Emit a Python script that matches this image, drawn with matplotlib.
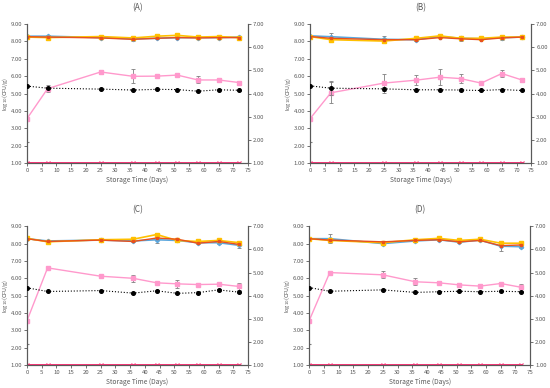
import matplotlib.pyplot as plt
import numpy as np

plt.rcParams["font.family"] = ["Noto Sans CJK JP", "DejaVu Sans"]

days = [0, 7, 25, 36, 44, 51, 58, 65, 72]
panels = ["(A)", "(B)", "(C)", "(D)"]

blue = {
    "A": [8.30, 8.30, 8.22, 8.15, 8.18, 8.22, 8.22, 8.22, 8.25],
    "B": [8.32, 8.27, 8.12, 8.10, 8.28, 8.18, 8.15, 8.22, 8.25],
    "C": [8.28, 8.15, 8.20, 8.15, 8.22, 8.18, 8.05, 8.05, 7.90],
    "D": [8.28, 8.28, 8.00, 8.15, 8.22, 8.08, 8.20, 7.85, 7.82],
}
blue_err = {
    "A": [0, 0.05, 0.05, 0.1, 0.05, 0.05, 0.05, 0.05, 0.05],
    "B": [0, 0.2, 0.2, 0.05, 0.05, 0.15, 0.05, 0.15, 0.05],
    "C": [0, 0.05, 0.05, 0.05, 0.2, 0.1, 0.05, 0.1, 0.15],
    "D": [0, 0.25, 0.05, 0.05, 0.05, 0.05, 0.05, 0.25, 0.05],
}
orange = {
    "A": [8.27, 8.25, 8.20, 8.12, 8.18, 8.22, 8.20, 8.22, 8.22],
    "B": [8.28, 8.18, 8.10, 8.10, 8.22, 8.15, 8.10, 8.20, 8.25],
    "C": [8.28, 8.12, 8.20, 8.12, 8.32, 8.25, 8.02, 8.12, 7.95],
    "D": [8.28, 8.20, 8.10, 8.18, 8.22, 8.10, 8.18, 7.88, 7.92],
}
yellow = {
    "A": [8.25, 8.22, 8.28, 8.20, 8.30, 8.35, 8.25, 8.28, 8.22],
    "B": [8.28, 8.10, 8.02, 8.18, 8.32, 8.18, 8.18, 8.25, 8.25],
    "C": [8.30, 8.10, 8.22, 8.25, 8.52, 8.18, 8.12, 8.18, 8.05],
    "D": [8.28, 8.18, 8.05, 8.22, 8.30, 8.18, 8.25, 8.02, 8.02],
}
pink = {
    "A": [3.55, 5.28, 6.24, 5.99, 6.00, 6.06, 5.78, 5.78, 5.63],
    "B": [3.56, 5.04, 5.60, 5.77, 5.94, 5.86, 5.60, 6.15, 5.77],
    "C": [3.55, 6.60, 6.12, 6.00, 5.74, 5.68, 5.64, 5.66, 5.53],
    "D": [3.55, 6.33, 6.20, 5.80, 5.74, 5.62, 5.55, 5.70, 5.48],
}
pink_err = {
    "A": [0, 0.2, 0.1, 0.4, 0.05, 0.05, 0.2, 0.1, 0.07],
    "B": [0, 0.6, 0.55, 0.3, 0.45, 0.28, 0.08, 0.18, 0.1],
    "C": [0, 0.05, 0.05, 0.2, 0.05, 0.25, 0.05, 0.07, 0.2],
    "D": [0, 0.05, 0.2, 0.2, 0.08, 0.05, 0.08, 0.05, 0.2],
}
# black series is read on the right axis
black = {
    "A": [4.32, 4.23, 4.19, 4.15, 4.18, 4.17, 4.10, 4.16, 4.14],
    "B": [4.33, 4.23, 4.20, 4.16, 4.16, 4.15, 4.13, 4.17, 4.13],
    "C": [4.34, 4.18, 4.22, 4.11, 4.21, 4.10, 4.13, 4.25, 4.15],
    "D": [4.35, 4.19, 4.25, 4.14, 4.17, 4.19, 4.17, 4.19, 4.17],
}
black_err = {
    "A": [0, 0.05, 0.05, 0.03, 0.03, 0.03, 0.03, 0.03, 0.03],
    "B": [0, 0.3, 0.1, 0.03, 0.03, 0.03, 0.03, 0.03, 0.03],
    "C": [0, 0.03, 0.03, 0.03, 0.03, 0.03, 0.05, 0.03, 0.05],
    "D": [0, 0.03, 0.03, 0.03, 0.03, 0.03, 0.03, 0.03, 0.03],
}
baseline = [1.00] * 9
baseline_err = [1.2, 0, 0, 0, 0, 0, 0, 0, 0]

axes_pos = {
    "A": [0.049, 0.580, 0.402, 0.358],
    "B": [0.564, 0.580, 0.402, 0.358],
    "C": [0.049, 0.059, 0.402, 0.358],
    "D": [0.562, 0.059, 0.402, 0.358],
}

txt = "#595959"
err_kw = dict(ecolor="#7f7f7f", elinewidth=0.6, capsize=1.5, capthick=0.6)

fig = plt.figure(figsize=(5.5, 3.88), dpi=100)

for key, title in zip("ABCD", panels):
    ax = fig.add_axes(axes_pos[key])
    ax2 = ax.twinx()

    ax.errorbar(days, baseline, yerr=baseline_err, color="#ff3377", lw=1.4,
                marker="x", ms=2.5, mew=0.8, zorder=2, **err_kw)
    ax.errorbar(days, pink[key], yerr=pink_err[key], color="#ff99cc", lw=1.0,
                marker="s", ms=2.4, zorder=3, **err_kw)
    ax.errorbar(days, blue[key], yerr=blue_err[key], color="#5ba7dd", lw=1.2,
                marker="D", ms=2.2, zorder=3, **err_kw)
    ax.plot(days, yellow[key], color="#ffc000", lw=1.2, marker="s", ms=2.6, zorder=4)
    ax.plot(days, orange[key], color="#e8501e", lw=1.0, marker="s", ms=2.0, zorder=5)

    ax2.errorbar(days, black[key], yerr=black_err[key], color="black", lw=0.8,
                 ls=":", marker="o", ms=2.6, zorder=3, **err_kw)

    ax.set_xlim(0, 75)
    ax.set_ylim(1, 9)
    ax2.set_ylim(1, 7)
    ax.set_xticks(np.arange(0, 76, 5))
    ax.set_yticks(np.arange(1, 10, 1))
    ax2.set_yticks(np.arange(1, 8, 1))
    ax.yaxis.set_major_formatter("{x:.2f}")
    ax2.yaxis.set_major_formatter("{x:.2f}")

    for a in (ax, ax2):
        a.tick_params(labelsize=4.3, colors=txt, length=2, width=0.6, pad=1.5)
        a.spines["top"].set_visible(False)
        for s in ("left", "right", "bottom"):
            a.spines[s].set_color("#595959")
            a.spines[s].set_linewidth(0.8)

    ax.set_xlabel("Storage Time (Days)", fontsize=4.8, color=txt, labelpad=2)
    ax.set_ylabel(r"log$_{10}$(CFU/g)", fontsize=4.0, color=txt)
    ax.yaxis.set_label_coords(-0.078, 0.5)
    ax.set_title(title, fontsize=6, color=txt, pad=10)

fig.savefig("out.png", dpi=100)
